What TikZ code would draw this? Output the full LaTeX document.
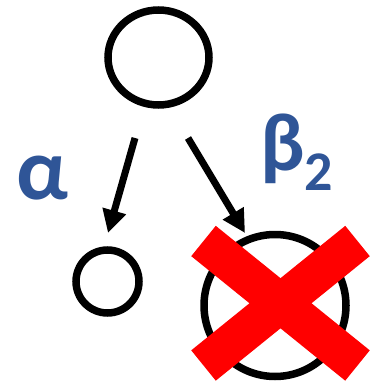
\documentclass[tikz,border=0pt]{standalone}
\usepackage{fontspec}
\newfontfamily\lblfont{Carlito}
\usetikzlibrary{arrows.meta}
\definecolor{lblblue}{RGB}{47,85,151}
\definecolor{xred}{RGB}{255,0,0}
\tikzset{
  ring/.style={draw=black, line width=7.5pt},
  edgearrow/.style={draw=black, line width=7pt, -{Triangle[length=23pt,width=23pt]}},
  xbar/.style={draw=xred, line width=39pt, line cap=butt},
  greek/.style={text=lblblue, inner sep=0pt, font=\lblfont\bfseries}
}
\begin{document}
\begin{tikzpicture}[x=1pt,y=-1pt]
\useasboundingbox (0,0) rectangle (371,382);
% circles
\draw[ring] (158.5,57.5) ellipse [x radius=50.5, y radius=47.5];
\path (158.5,57.5) coordinate (top);
\draw[ring] (107.5,281.5) circle [radius=31.5];
\path (107.5,281.5) coordinate (left);
\draw[ring] (275,305.5) circle [radius=71];
\path (275,305.5) coordinate (right);
% arrows
\coordinate (a1s) at (135,138);
\coordinate (a1e) at (108,233);
\coordinate (a2s) at (188,138);
\coordinate (a2e) at (245,233);
\draw[edgearrow] (a1s) -- (a1e);
\draw[edgearrow] (a2s) -- (a2e);
% labels
\node[greek, anchor=base west] (alpha) at (16,199) {\fontsize{88}{88}\selectfont α};
\node[greek, anchor=base west] (beta) at (260,170) {\fontsize{82}{82}\selectfont β\raisebox{-20pt}{\fontsize{56}{56}\selectfont 2}};
% red X
\coordinate (x1a) at (203.5,241);
\coordinate (x1b) at (357.5,365.5);
\coordinate (x2a) at (357.5,241);
\coordinate (x2b) at (203.5,365.5);
\draw[xbar] (x1a) -- (x1b);
\draw[xbar] (x2a) -- (x2b);
\end{tikzpicture}
\end{document}
